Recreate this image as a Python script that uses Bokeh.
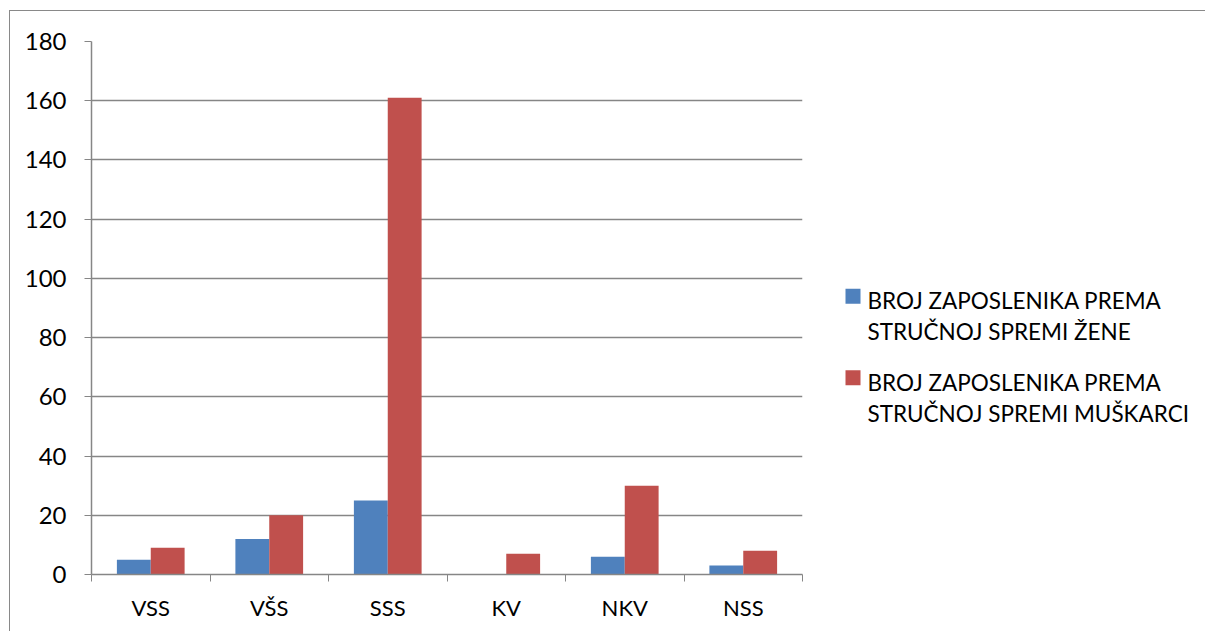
from bokeh.plotting import figure
from bokeh.models import ColumnDataSource, Range1d, FixedTicker
from bokeh.layouts import row
from bokeh.core.properties import value
from bokeh.embed import file_html
from bokeh.resources import INLINE

categories = ["VSS", "VŠS", "SSS", "KV", "NKV", "NSS"]
zene = [5, 12, 25, 0, 6, 3]
muskarci = [9, 20, 161, 7, 30, 8]
y_ticks = [0, 20, 40, 60, 80, 100, 120, 140, 160, 180]
series_names = ["BROJ ZAPOSLENIKA PREMA\nSTRUČNOJ SPREMI ŽENE",
                "BROJ ZAPOSLENIKA PREMA\nSTRUČNOJ SPREMI MUŠKARCI"]
colors = ["#4F81BD", "#C0504D"]

FONT = "Lato"
GRID = "#868686"

n = len(categories)
centers = [i + 0.5 for i in range(n)]
bw = 1.0 / 3.5
src = ColumnDataSource(dict(
    xb=[c - bw / 2 for c in centers],
    xr=[c + bw / 2 for c in centers],
    zene=zene, muskarci=muskarci))

# page offsets of the canvas (margin + border)
OX, OY = 10, 11
H = 620
FL, FR, FT, FB = 81, 792, 30, 563
W1 = FR + 10
p = figure(width=W1, height=H, output_backend="svg", toolbar_location=None,
           x_range=Range1d(0, n), y_range=Range1d(0, 180),
           min_border_left=FL, min_border_right=W1 - FR,
           min_border_top=FT, min_border_bottom=H - FB)
p.outline_line_color = None

rb = p.vbar(x="xb", top="zene", width=bw, source=src, fill_color=colors[0],
            line_color=None)
rr = p.vbar(x="xr", top="muskarci", width=bw, source=src, fill_color=colors[1],
            line_color=None)

p.xaxis.ticker = FixedTicker(ticks=centers, minor_ticks=list(range(n + 1)))
p.xaxis.major_label_overrides = {c: lab for c, lab in zip(centers, categories)}
p.xaxis.major_tick_line_color = None
p.xaxis.minor_tick_line_color = GRID
p.xaxis.minor_tick_in = 0
p.xaxis.minor_tick_out = 7
p.xaxis.axis_line_color = GRID
p.xaxis.axis_line_width = 1.5
p.xaxis.major_label_standoff = 12
p.xaxis.major_label_text_font = FONT
p.xaxis.major_label_text_font_size = "22px"
p.xaxis.major_label_text_color = "black"

p.yaxis.ticker = FixedTicker(ticks=y_ticks)
p.yaxis.minor_tick_line_color = None
p.yaxis.major_tick_line_color = GRID
p.yaxis.major_tick_in = 0
p.yaxis.major_tick_out = 7
p.yaxis.axis_line_color = GRID
p.yaxis.axis_line_width = 1.5
p.yaxis.major_label_standoff = 18
p.yaxis.major_label_text_font = FONT
p.yaxis.major_label_text_font_size = "24px"
p.yaxis.major_label_text_color = "black"

p.xgrid.grid_line_color = None
p.ygrid.grid_line_color = GRID
p.ygrid.grid_line_width = 1.5

# legend panel: its frame matches the main frame vertically; coordinates are page pixels
W2 = 1195 - W1
x0 = OX + W1
lg = figure(width=W2, height=H, output_backend="svg", toolbar_location=None,
            x_range=Range1d(x0, x0 + W2), y_range=Range1d(OY + FB, OY + FT),
            min_border_left=0, min_border_right=0,
            min_border_top=FT, min_border_bottom=H - FB,
            x_axis_location=None, y_axis_location=None)
lg.outline_line_color = None
lg.xgrid.grid_line_color = None
lg.ygrid.grid_line_color = None

item_top = [288.3, 369.8]
sq = 15
lg.quad(left=[845] * 2, right=[845 + sq] * 2, top=item_top,
        bottom=[t + sq for t in item_top], fill_color=colors, line_color=None)

tx, ty, tt = [], [], []
for k, name in enumerate(series_names):
    for j, line in enumerate(name.split("\n")):
        tx.append(867)
        ty.append(item_top[k] + 12 + j * 31)
        tt.append(line)
lg.text(x=tx, y=ty, text=tt, text_font=value(FONT), text_font_size=value("22.5px"),
        text_baseline="alphabetic", text_align="left", text_color="black")

layout = row(p, lg)
layout.styles = {"border-left": "1px solid #898989", "border-top": "1px solid #898989",
                 "margin-top": "10px", "margin-left": "9px"}

open("out.html", "w").write(file_html(layout, INLINE))
